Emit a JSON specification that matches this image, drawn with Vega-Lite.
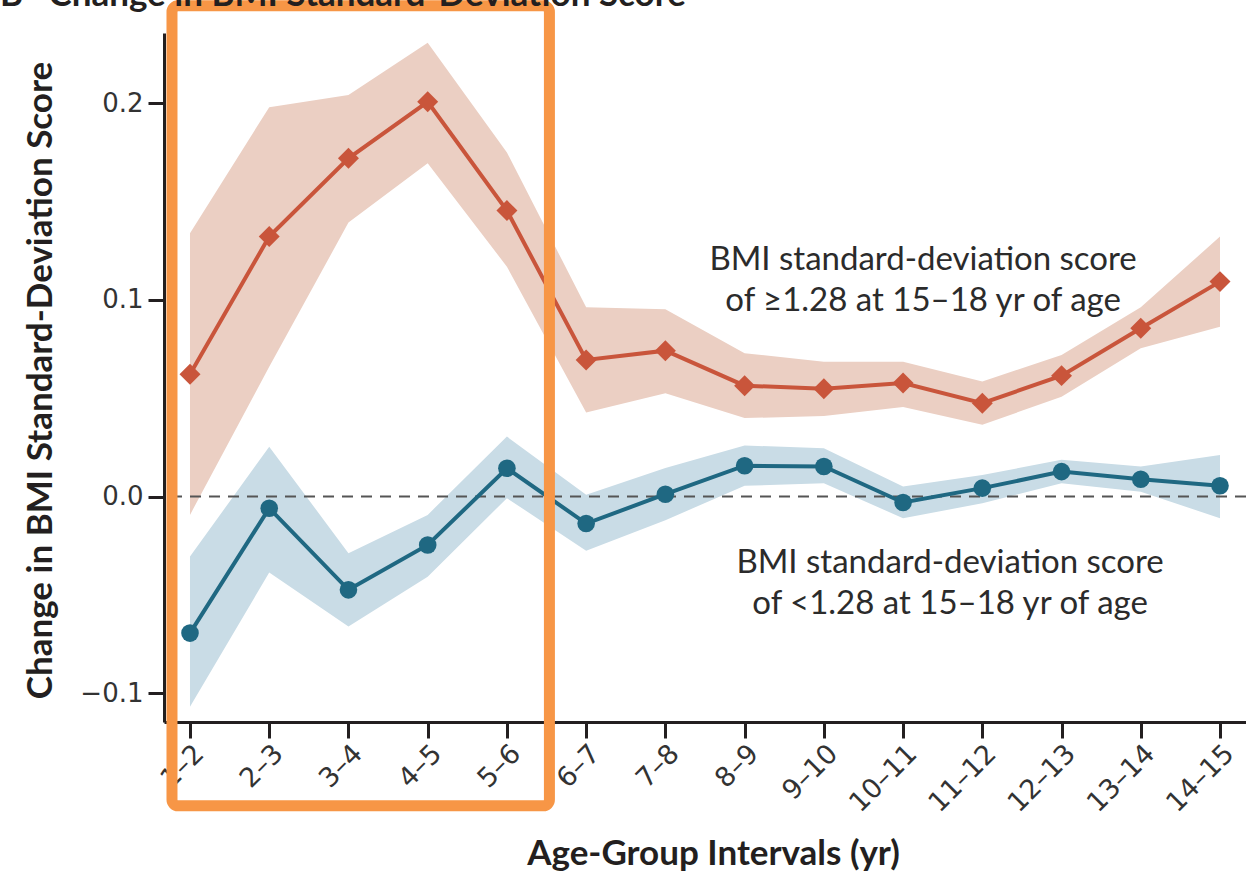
{
  "$schema": "https://vega.github.io/schema/vega-lite/v6.json",
  "width": 1082,
  "height": 689,
  "autosize": {"type": "none"},
  "padding": {"left": 164, "top": 33, "right": 0, "bottom": 149},
  "background": "white",
  "config": {
    "view": {"stroke": null},
    "axis": {
      "domainColor": "#231F20", "domainWidth": 3,
      "tickColor": "#231F20", "tickWidth": 3, "tickSize": 16,
      "grid": false,
      "labelFont": "DejaVu Sans", "labelFontSize": 26, "labelColor": "#333333",
      "titleFont": "Lato", "titleFontSize": 35, "titleFontWeight": "bold", "titleColor": "#231F20"
    }
  },
  "title": {
    "text": "B\u00a0\u00a0\u00a0Change in BMI Standard-Deviation Score",
    "anchor": "start", "frame": "group", "dx": -164, "offset": -13,
    "font": "Lato", "fontSize": 35, "fontWeight": "bold", "color": "#231F20"
  },
  "datasets": {
    "series": [
      {"interval": "1–2", "group": "high", "est": 0.0622, "lo": -0.0093, "hi": 0.1339},
      {"interval": "2–3", "group": "high", "est": 0.1322, "lo": 0.066, "hi": 0.198},
      {"interval": "3–4", "group": "high", "est": 0.172, "lo": 0.1393, "hi": 0.2042},
      {"interval": "4–5", "group": "high", "est": 0.2007, "lo": 0.1695, "hi": 0.2308},
      {"interval": "5–6", "group": "high", "est": 0.1454, "lo": 0.1169, "hi": 0.175},
      {"interval": "6–7", "group": "high", "est": 0.0695, "lo": 0.0427, "hi": 0.0963},
      {"interval": "7–8", "group": "high", "est": 0.0742, "lo": 0.0526, "hi": 0.0953},
      {"interval": "8–9", "group": "high", "est": 0.0564, "lo": 0.0399, "hi": 0.0729},
      {"interval": "9–10", "group": "high", "est": 0.0548, "lo": 0.041, "hi": 0.0686},
      {"interval": "10–11", "group": "high", "est": 0.0577, "lo": 0.0455, "hi": 0.0686},
      {"interval": "11–12", "group": "high", "est": 0.0475, "lo": 0.0365, "hi": 0.0585},
      {"interval": "12–13", "group": "high", "est": 0.0615, "lo": 0.0508, "hi": 0.072},
      {"interval": "13–14", "group": "high", "est": 0.0856, "lo": 0.0754, "hi": 0.0963},
      {"interval": "14–15", "group": "high", "est": 0.1093, "lo": 0.0864, "hi": 0.1322},
      {"interval": "1–2", "group": "low", "est": -0.0694, "lo": -0.1068, "hi": -0.0305},
      {"interval": "2–3", "group": "low", "est": -0.0059, "lo": -0.0386, "hi": 0.0254},
      {"interval": "3–4", "group": "low", "est": -0.0474, "lo": -0.0661, "hi": -0.0288},
      {"interval": "4–5", "group": "low", "est": -0.0246, "lo": -0.0407, "hi": -0.0093},
      {"interval": "5–6", "group": "low", "est": 0.0144, "lo": -0.0008, "hi": 0.0305},
      {"interval": "6–7", "group": "low", "est": -0.0137, "lo": -0.0275, "hi": 0.0009},
      {"interval": "7–8", "group": "low", "est": 0.0012, "lo": -0.012, "hi": 0.0145},
      {"interval": "8–9", "group": "low", "est": 0.0157, "lo": 0.0055, "hi": 0.026},
      {"interval": "9–10", "group": "low", "est": 0.0153, "lo": 0.0068, "hi": 0.0246},
      {"interval": "10–11", "group": "low", "est": -0.003, "lo": -0.011, "hi": 0.0051},
      {"interval": "11–12", "group": "low", "est": 0.0043, "lo": -0.0034, "hi": 0.011},
      {"interval": "12–13", "group": "low", "est": 0.0127, "lo": 0.0068, "hi": 0.0187},
      {"interval": "13–14", "group": "low", "est": 0.0088, "lo": 0.0025, "hi": 0.0153},
      {"interval": "14–15", "group": "low", "est": 0.0055, "lo": -0.011, "hi": 0.0212}
    ],
    "notes": [
      {"interval": "10–11", "group": "high", "y": 0.1153, "label": ["BMI standard-deviation score", "of ≥1.28 at 15–18 yr of age"]},
      {"interval": "10–11", "group": "low", "y": -0.0388, "label": ["BMI standard-deviation score", "of <1.28 at 15–18 yr of age"]}
    ],
    "box": [
      {"from": "1–2", "to": "5–6", "top": 0.2495, "bottom": -0.1572}
    ],
    "ref": [{"zero": 0}]
  },
  "layer": [
    {
      "data": {"name": "series"},
      "transform": [{"filter": "datum.group === 'high'"}],
      "mark": {"type": "area", "color": "#EBCFC3", "opacity": 1},
      "encoding": {
        "x": {
          "field": "interval", "type": "ordinal",
          "scale": {"type": "point", "padding": 0.328, "domain": ["1–2", "2–3", "3–4", "4–5", "5–6", "6–7", "7–8", "8–9", "9–10", "10–11", "11–12", "12–13", "13–14", "14–15"]},
          "axis": {"title": "Age-Group Intervals (yr)", "labelAngle": -45, "labelAlign": "right", "labelBaseline": "top", "labelPadding": 2, "labelFontSize": 27, "titleY": 142, "titleX": 549, "titleBaseline": "alphabetic"}
        },
        "y": {
          "field": "hi", "type": "quantitative",
          "scale": {"domain": [-0.1146, 0.2357], "nice": false, "zero": false},
          "axis": {"title": "Change in BMI Standard-Deviation Score", "values": [-0.1, 0, 0.1, 0.2], "format": ".1f", "labelPadding": 5, "titleX": -124, "titleY": 347, "titleBaseline": "middle"}
        },
        "y2": {"field": "lo"}
      }
    },
    {
      "data": {"name": "series"},
      "transform": [{"filter": "datum.group === 'low'"}],
      "mark": {"type": "area", "color": "#C9DCE6", "opacity": 1},
      "encoding": {
        "x": {"field": "interval", "type": "ordinal"},
        "y": {"field": "hi", "type": "quantitative"},
        "y2": {"field": "lo"}
      }
    },
    {
      "data": {"name": "ref"},
      "mark": {"type": "rule", "color": "#555555", "strokeWidth": 2, "strokeDash": [11, 8]},
      "encoding": {"y": {"field": "zero", "type": "quantitative"}}
    },
    {
      "data": {"name": "series"},
      "transform": [{"filter": "datum.group === 'high'"}],
      "mark": {"type": "line", "color": "#C9553B", "strokeWidth": 4},
      "encoding": {
        "x": {"field": "interval", "type": "ordinal"},
        "y": {"field": "est", "type": "quantitative"}
      }
    },
    {
      "data": {"name": "series"},
      "transform": [{"filter": "datum.group === 'low'"}],
      "mark": {"type": "line", "color": "#1F6882", "strokeWidth": 4},
      "encoding": {
        "x": {"field": "interval", "type": "ordinal"},
        "y": {"field": "est", "type": "quantitative"}
      }
    },
    {
      "data": {"name": "series"},
      "transform": [{"filter": "datum.group === 'high'"}],
      "mark": {"type": "point", "shape": "diamond", "filled": true, "size": 440, "color": "#C9553B", "opacity": 1},
      "encoding": {
        "x": {"field": "interval", "type": "ordinal"},
        "y": {"field": "est", "type": "quantitative"}
      }
    },
    {
      "data": {"name": "series"},
      "transform": [{"filter": "datum.group === 'low'"}],
      "mark": {"type": "point", "shape": "circle", "filled": true, "size": 310, "color": "#1F6882", "opacity": 1},
      "encoding": {
        "x": {"field": "interval", "type": "ordinal"},
        "y": {"field": "est", "type": "quantitative"}
      }
    },
    {
      "data": {"name": "notes"},
      "transform": [{"filter": "datum.group === 'high'"}],
      "mark": {"type": "text", "font": "Lato", "fontSize": 33, "color": "#2B2B2B", "align": "center", "baseline": "alphabetic", "lineHeight": 41, "dx": 20},
      "encoding": {
        "x": {"field": "interval", "type": "ordinal"},
        "y": {"field": "y", "type": "quantitative"},
        "text": {"field": "label", "type": "nominal"}
      }
    },
    {
      "data": {"name": "notes"},
      "transform": [{"filter": "datum.group === 'low'"}],
      "mark": {"type": "text", "font": "Lato", "fontSize": 33, "color": "#2B2B2B", "align": "center", "baseline": "alphabetic", "lineHeight": 41, "dx": 47},
      "encoding": {
        "x": {"field": "interval", "type": "ordinal"},
        "y": {"field": "y", "type": "quantitative"},
        "text": {"field": "label", "type": "nominal"}
      }
    },
    {
      "data": {"name": "box"},
      "mark": {"type": "rect", "fill": null, "fillOpacity": 0, "stroke": "#F79646", "strokeWidth": 11, "cornerRadius": 6, "xOffset": -18, "x2Offset": 42.5},
      "encoding": {
        "x": {"field": "from", "type": "ordinal"},
        "x2": {"field": "to"},
        "y": {"field": "top", "type": "quantitative"},
        "y2": {"field": "bottom"}
      }
    }
  ]
}
